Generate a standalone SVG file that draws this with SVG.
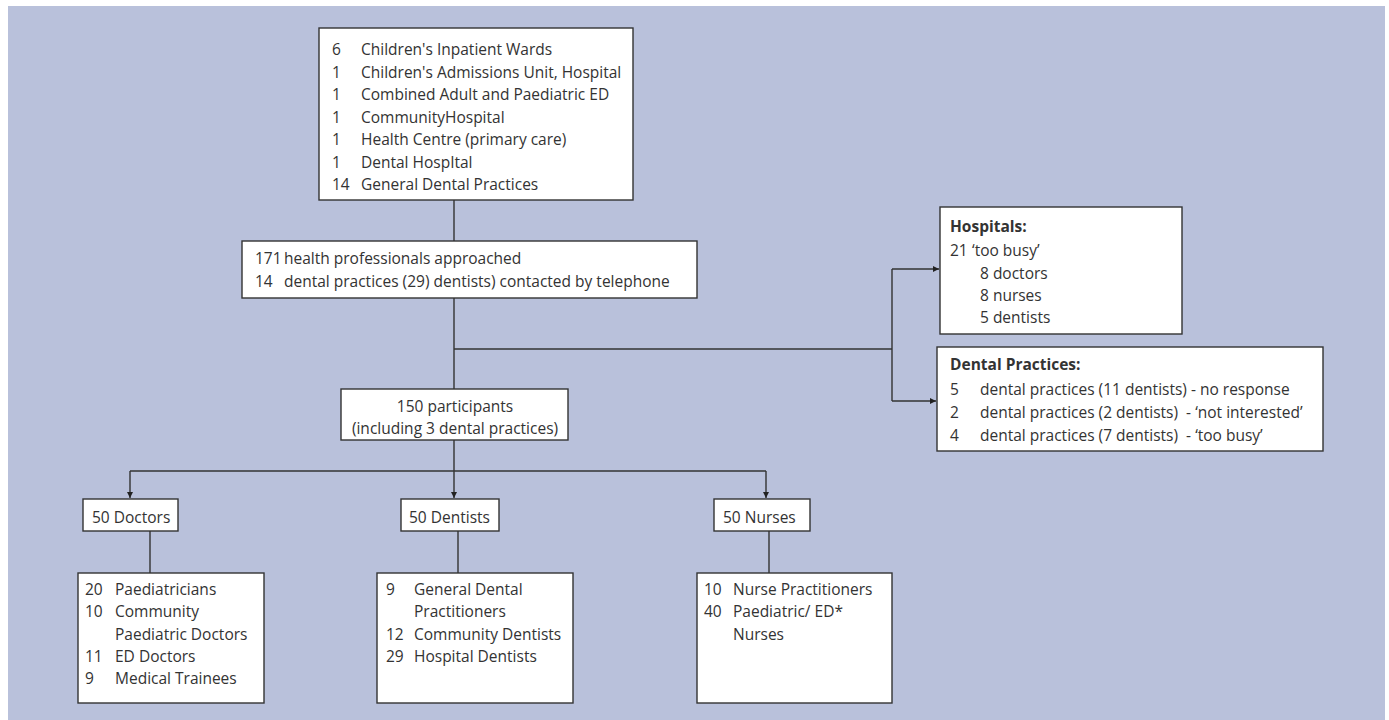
<svg xmlns="http://www.w3.org/2000/svg" width="1389" height="720" viewBox="0 0 1389 720">
<style>
.bg{fill:#b9c1db}
.box{fill:#fff;stroke:#333;stroke-width:1.4}
.t{font-family:"Open Sans","Noto Sans",sans-serif;font-size:15.5px;fill:#333}
.b{font-weight:bold}
.c{text-anchor:middle}
.ln{fill:none;stroke:#333;stroke-width:1.4}
</style>
<defs>
<marker id="ah" viewBox="0 0 10 10" refX="10" refY="5" markerWidth="6" markerHeight="6" orient="auto" markerUnits="userSpaceOnUse">
<path d="M0,0 L10,5 L0,10 Z" fill="#222"/>
</marker>
</defs>
<rect class="bg" x="8" y="6" width="1377" height="714"/>
<g id="connectors">
<path class="ln" d="M454,200 V241"/>
<path class="ln" d="M454,298 V389"/>
<path class="ln" d="M454,349 H892"/>
<path class="ln" d="M892,269 V401"/>
<path class="ln" d="M892,269 H939" marker-end="url(#ah)"/>
<path class="ln" d="M892,401 H936" marker-end="url(#ah)"/>
<path class="ln" d="M454,440 V498" marker-end="url(#ah)"/>
<path class="ln" d="M130,471 H766"/>
<path class="ln" d="M130,471 V498" marker-end="url(#ah)"/>
<path class="ln" d="M766,471 V498" marker-end="url(#ah)"/>
<path class="ln" d="M150,531 V573"/>
<path class="ln" d="M458,531 V573"/>
<path class="ln" d="M769,531 V573"/>
</g>
<g id="sites">
<rect class="box" x="319" y="28" width="314" height="172"/>
<text class="t" x="332" y="55">6</text><text class="t" x="361" y="55">Children's Inpatient Wards</text>
<text class="t" x="332" y="77.5">1</text><text class="t" x="361" y="77.5">Children's Admissions Unit, Hospital</text>
<text class="t" x="332" y="100">1</text><text class="t" x="361" y="100">Combined Adult and Paediatric ED</text>
<text class="t" x="332" y="122.5">1</text><text class="t" x="361" y="122.5">CommunityHospital</text>
<text class="t" x="332" y="145">1</text><text class="t" x="361" y="145">Health Centre (primary care)</text>
<text class="t" x="332" y="167.5">1</text><text class="t" x="361" y="167.5">Dental HospItal</text>
<text class="t" x="332" y="190">14</text><text class="t" x="361" y="190">General Dental Practices</text>
</g>
<g id="approached">
<rect class="box" x="242" y="241" width="455" height="57"/>
<text class="t" x="255" y="264">171</text><text class="t" x="284" y="264">health professionals approached</text>
<text class="t" x="255" y="287">14</text><text class="t" x="284" y="287">dental practices (29) dentists) contacted by telephone</text>
</g>
<g id="hospitals">
<rect class="box" x="940" y="207" width="242" height="127"/>
<text class="t b" x="950" y="232">Hospitals:</text>
<text class="t" x="950" y="256">21</text><text class="t" x="972" y="256">‘too busy’</text>
<text class="t" x="980" y="279">8 doctors</text>
<text class="t" x="980" y="301">8 nurses</text>
<text class="t" x="980" y="323">5 dentists</text>
</g>
<g id="dental-practices">
<rect class="box" x="937" y="347" width="386" height="104"/>
<text class="t b" x="950" y="370">Dental Practices:</text>
<text class="t" x="950" y="395">5</text><text class="t" x="980" y="395">dental practices (11 dentists) - no response</text>
<text class="t" x="950" y="418">2</text><text class="t" x="980" y="418" xml:space="preserve">dental practices (2 dentists)  - ‘not interested’</text>
<text class="t" x="950" y="441">4</text><text class="t" x="980" y="441" xml:space="preserve">dental practices (7 dentists)  - ‘too busy’</text>
</g>
<g id="participants">
<rect class="box" x="341" y="389" width="227" height="51"/>
<text class="t c" x="455" y="412">150 participants</text>
<text class="t c" x="455" y="434">(including 3 dental practices)</text>
</g>
<g id="doctors">
<rect class="box" x="83" y="499" width="95" height="32"/>
<text class="t" x="92" y="523">50 Doctors</text>
</g>
<g id="dentists">
<rect class="box" x="401" y="499" width="98" height="32"/>
<text class="t" x="409" y="523">50 Dentists</text>
</g>
<g id="nurses">
<rect class="box" x="714" y="499" width="96" height="32"/>
<text class="t" x="723" y="523">50 Nurses</text>
</g>
<g id="doctors-detail">
<rect class="box" x="78" y="573" width="186" height="130"/>
<text class="t" x="85" y="595">20</text><text class="t" x="115" y="595">Paediatricians</text>
<text class="t" x="85" y="617">10</text><text class="t" x="115" y="617">Community</text>
<text class="t" x="115" y="640">Paediatric Doctors</text>
<text class="t" x="85" y="662">11</text><text class="t" x="115" y="662">ED Doctors</text>
<text class="t" x="85" y="684">9</text><text class="t" x="115" y="684">Medical Trainees</text>
</g>
<g id="dentists-detail">
<rect class="box" x="377" y="573" width="196" height="130"/>
<text class="t" x="386" y="595">9</text><text class="t" x="414" y="595">General Dental</text>
<text class="t" x="414" y="617">Practitioners</text>
<text class="t" x="386" y="640">12</text><text class="t" x="414" y="640">Community Dentists</text>
<text class="t" x="386" y="662">29</text><text class="t" x="414" y="662">Hospital Dentists</text>
</g>
<g id="nurses-detail">
<rect class="box" x="697" y="573" width="195" height="130"/>
<text class="t" x="704" y="595">10</text><text class="t" x="733" y="595">Nurse Practitioners</text>
<text class="t" x="704" y="617">40</text><text class="t" x="733" y="617">Paediatric/ ED*</text>
<text class="t" x="733" y="640">Nurses</text>
</g>
</svg>
